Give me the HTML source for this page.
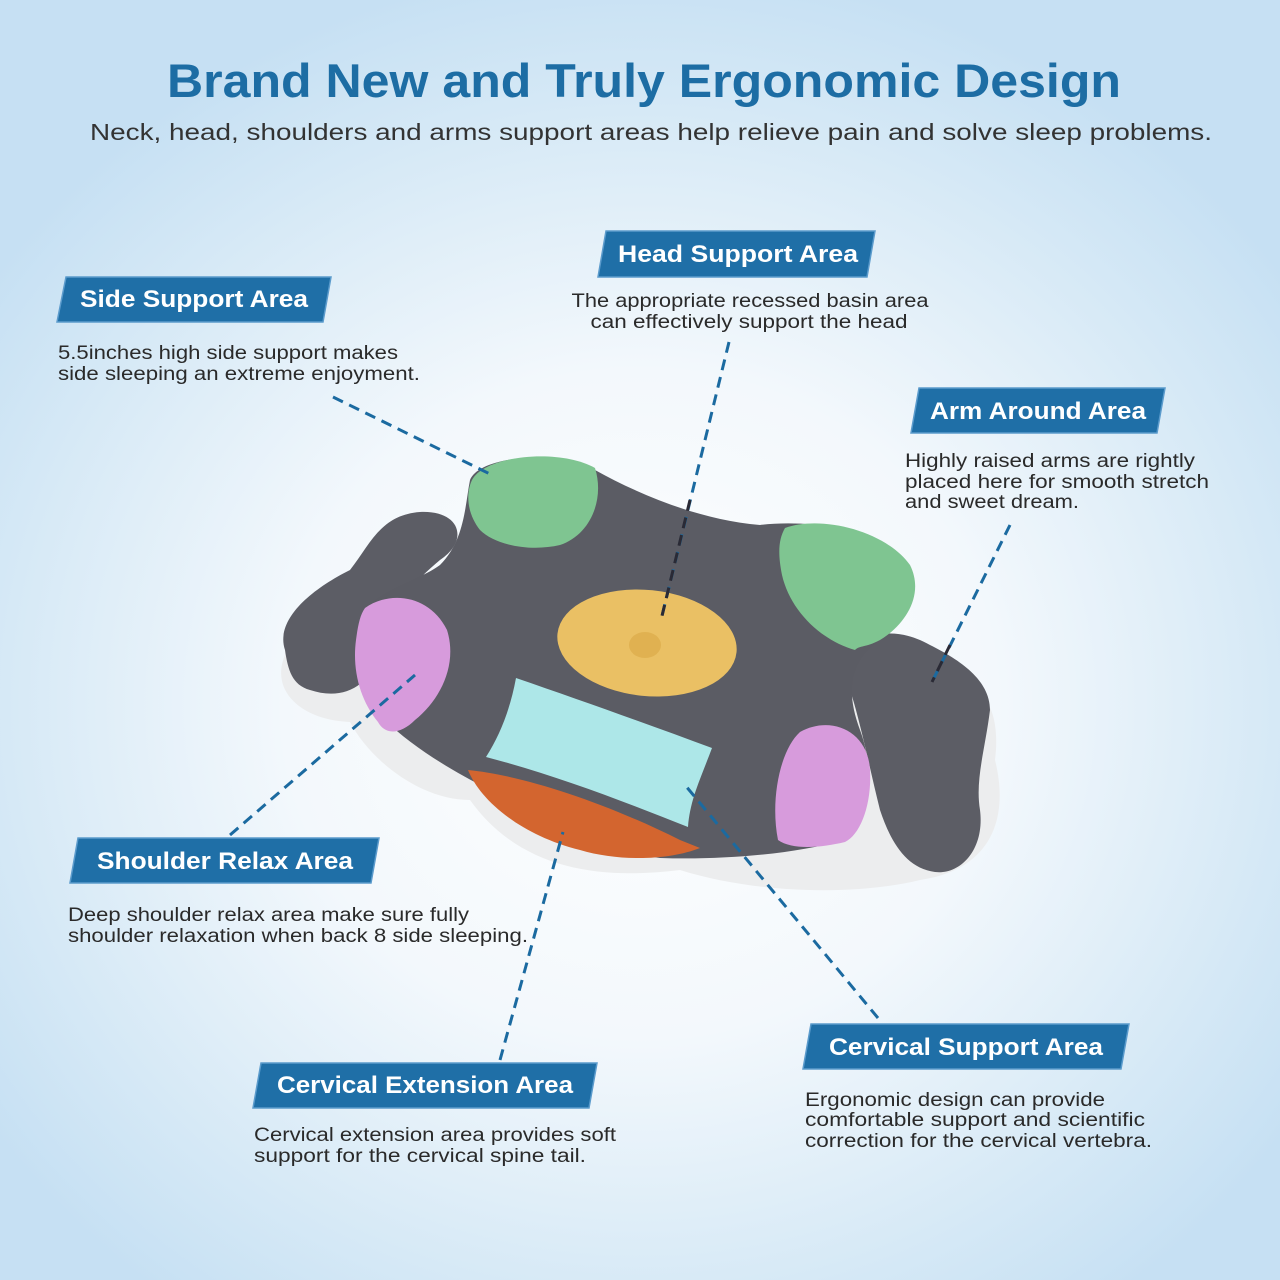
<!DOCTYPE html>
<html><head><meta charset="utf-8"><style>
html,body{margin:0;padding:0;width:1280px;height:1280px;overflow:hidden}
body{background:radial-gradient(ellipse 62% 58% at 50% 55%,#ffffff 0%,#f3f8fc 45%,#d6e9f6 80%,#c6e0f3 100%)}
svg{display:block}
.t{font-family:"Liberation Sans",sans-serif}
.lb{font-family:"Liberation Sans",sans-serif;font-weight:bold;font-size:24px;fill:#fff}
.d{font-family:"Liberation Sans",sans-serif;font-size:19px;fill:#2a2a2a}
.dash{stroke:#1b6aa0;stroke-width:3;stroke-dasharray:11 7;fill:none}
.box{fill:#1f6fa7;stroke:#5b9bcc;stroke-width:1.5}
</style></head><body>
<svg width="1280" height="1280" viewBox="0 0 1280 1280">
<text class="t" x="644" y="97" text-anchor="middle" font-size="47" font-weight="bold" fill="#1d6da4" textLength="954" lengthAdjust="spacingAndGlyphs">Brand New and Truly Ergonomic Design</text>
<text class="t" x="651" y="140" text-anchor="middle" font-size="23" fill="#333" textLength="1122" lengthAdjust="spacingAndGlyphs">Neck, head, shoulders and arms support areas help relieve pain and solve sleep problems.</text>

<!-- pillow white base -->
<path fill="#ecedee" d="M285,655 C270,690 300,720 350,722 C370,760 420,800 470,800 C520,870 600,880 680,870 C760,895 860,895 920,880 C990,870 1010,820 995,760 C1000,720 990,690 960,680 C900,640 840,650 780,620 C600,560 420,560 330,610 C300,620 285,640 285,655 Z"/>
<!-- left wing -->
<path fill="#5c5d65" d="M285,650 C275,620 310,590 350,570 C370,545 380,515 420,512 C460,510 470,540 440,560 C410,585 390,610 380,650 C370,690 340,700 310,690 C292,685 288,670 285,650 Z"/>
<!-- right arm -->
<path fill="#5c5d65" d="M850,650 C870,630 900,628 930,645 C960,660 990,680 990,710 C985,750 975,780 980,810 C985,850 960,875 935,872 C905,868 890,840 880,810 C870,770 860,720 850,690 Z"/>
<!-- main body -->
<path fill="#5b5c64" d="M470,480 C480,455 560,450 595,470 C640,495 700,520 760,525 C800,520 870,525 905,560 C925,590 905,625 880,640 C850,660 845,690 860,730 C875,770 870,820 845,840 C790,855 720,860 660,858 C600,850 540,820 490,790 C450,770 410,745 385,720 C355,690 350,640 365,610 C380,590 420,580 440,565 C465,540 465,505 470,480 Z"/>
<!-- green top -->
<path fill="#7fc591" d="M472,480 C485,455 560,448 595,468 C605,500 590,535 560,545 C530,552 495,545 480,530 C468,515 465,495 472,480 Z"/>
<!-- green right -->
<path fill="#7fc591" d="M785,528 C820,515 885,530 910,565 C925,595 905,625 880,640 C865,648 860,645 855,650 C820,640 790,610 782,575 C778,555 778,540 785,528 Z"/>
<!-- pink left -->
<path fill="#d79bdc" d="M365,608 C390,590 430,595 447,630 C458,665 440,700 415,720 C400,735 385,735 378,722 C360,700 352,670 356,640 C358,625 360,615 365,608 Z"/>
<!-- pink right -->
<path fill="#d79bdc" d="M800,732 C830,715 868,730 870,770 C872,805 860,835 845,842 C820,848 792,850 778,840 C770,800 780,750 800,732 Z"/>
<!-- yellow -->
<ellipse cx="647" cy="643" rx="90" ry="53" transform="rotate(6 647 643)" fill="#eac064"/>
<ellipse cx="645" cy="645" rx="16" ry="13" fill="#dcab48" opacity=".7"/>
<!-- orange -->
<path fill="#d3652f" d="M468,770 C520,775 600,800 680,840 L700,848 C670,860 620,862 580,850 C520,835 480,800 468,770 Z"/>
<!-- cyan -->
<path fill="#ade7e8" d="M516,678 C580,700 650,725 712,748 C700,780 690,800 688,827 C620,800 555,775 486,757 C500,735 510,710 516,678 Z"/>

<!-- dashed lines -->
<line class="dash" x1="333" y1="397" x2="492" y2="475"/>
<line class="dash" x1="729" y1="342" x2="661" y2="620" style="stroke:#1b6aa0"/>
<line x1="690" y1="500" x2="661" y2="620" style="stroke:#2a2a35;stroke-width:3;stroke-dasharray:11 7"/>
<line class="dash" x1="1010" y1="525" x2="932" y2="682"/>
<line x1="950" y1="645" x2="932" y2="682" style="stroke:#2a2a35;stroke-width:3;stroke-dasharray:11 7"/>
<line class="dash" x1="230" y1="835" x2="415" y2="675"/>
<line class="dash" x1="500" y1="1060" x2="563" y2="832"/>
<line class="dash" x1="878" y1="1018" x2="685" y2="785"/>

<!-- label boxes -->
<polygon class="box" points="66,277 331,277 323,322 57,322"/>
<text class="lb" x="194" y="307" text-anchor="middle" textLength="228" lengthAdjust="spacingAndGlyphs">Side Support Area</text>
<text class="d" x="58" y="359" textLength="340" lengthAdjust="spacingAndGlyphs">5.5inches high side support makes</text>
<text class="d" x="58" y="380" textLength="362" lengthAdjust="spacingAndGlyphs">side sleeping an extreme enjoyment.</text>

<polygon class="box" points="606,231 875,231 867,277 598,277"/>
<text class="lb" x="738" y="262" text-anchor="middle" textLength="240" lengthAdjust="spacingAndGlyphs">Head Support Area</text>
<text class="d" x="750" y="307" text-anchor="middle" textLength="357" lengthAdjust="spacingAndGlyphs">The appropriate recessed basin area</text>
<text class="d" x="749" y="328" text-anchor="middle" textLength="317" lengthAdjust="spacingAndGlyphs">can effectively support the head</text>

<polygon class="box" points="919,388 1165,388 1157,433 911,433"/>
<text class="lb" x="1038" y="419" text-anchor="middle" textLength="216" lengthAdjust="spacingAndGlyphs">Arm Around Area</text>
<text class="d" x="905" y="467" textLength="290" lengthAdjust="spacingAndGlyphs">Highly raised arms are rightly</text>
<text class="d" x="905" y="488" textLength="304" lengthAdjust="spacingAndGlyphs">placed here for smooth stretch</text>
<text class="d" x="905" y="508" textLength="174" lengthAdjust="spacingAndGlyphs">and sweet dream.</text>

<polygon class="box" points="78,838 379,838 371,883 70,883"/>
<text class="lb" x="225" y="869" text-anchor="middle" textLength="256" lengthAdjust="spacingAndGlyphs">Shoulder Relax Area</text>
<text class="d" x="68" y="921" textLength="401" lengthAdjust="spacingAndGlyphs">Deep shoulder relax area make sure fully</text>
<text class="d" x="68" y="942" textLength="460" lengthAdjust="spacingAndGlyphs">shoulder relaxation when back 8 side sleeping.</text>

<polygon class="box" points="261,1063 597,1063 589,1108 253,1108"/>
<text class="lb" x="425" y="1093" text-anchor="middle" textLength="296" lengthAdjust="spacingAndGlyphs">Cervical Extension Area</text>
<text class="d" x="254" y="1141" textLength="362" lengthAdjust="spacingAndGlyphs">Cervical extension area provides soft</text>
<text class="d" x="254" y="1162" textLength="332" lengthAdjust="spacingAndGlyphs">support for the cervical spine tail.</text>

<polygon class="box" points="811,1024 1129,1024 1121,1069 803,1069"/>
<text class="lb" x="966" y="1055" text-anchor="middle" textLength="274" lengthAdjust="spacingAndGlyphs">Cervical Support Area</text>
<text class="d" x="805" y="1106" textLength="300" lengthAdjust="spacingAndGlyphs">Ergonomic design can provide</text>
<text class="d" x="805" y="1126" textLength="340" lengthAdjust="spacingAndGlyphs">comfortable support and scientific</text>
<text class="d" x="805" y="1147" textLength="347" lengthAdjust="spacingAndGlyphs">correction for the cervical vertebra.</text>
</svg>
</body></html>
